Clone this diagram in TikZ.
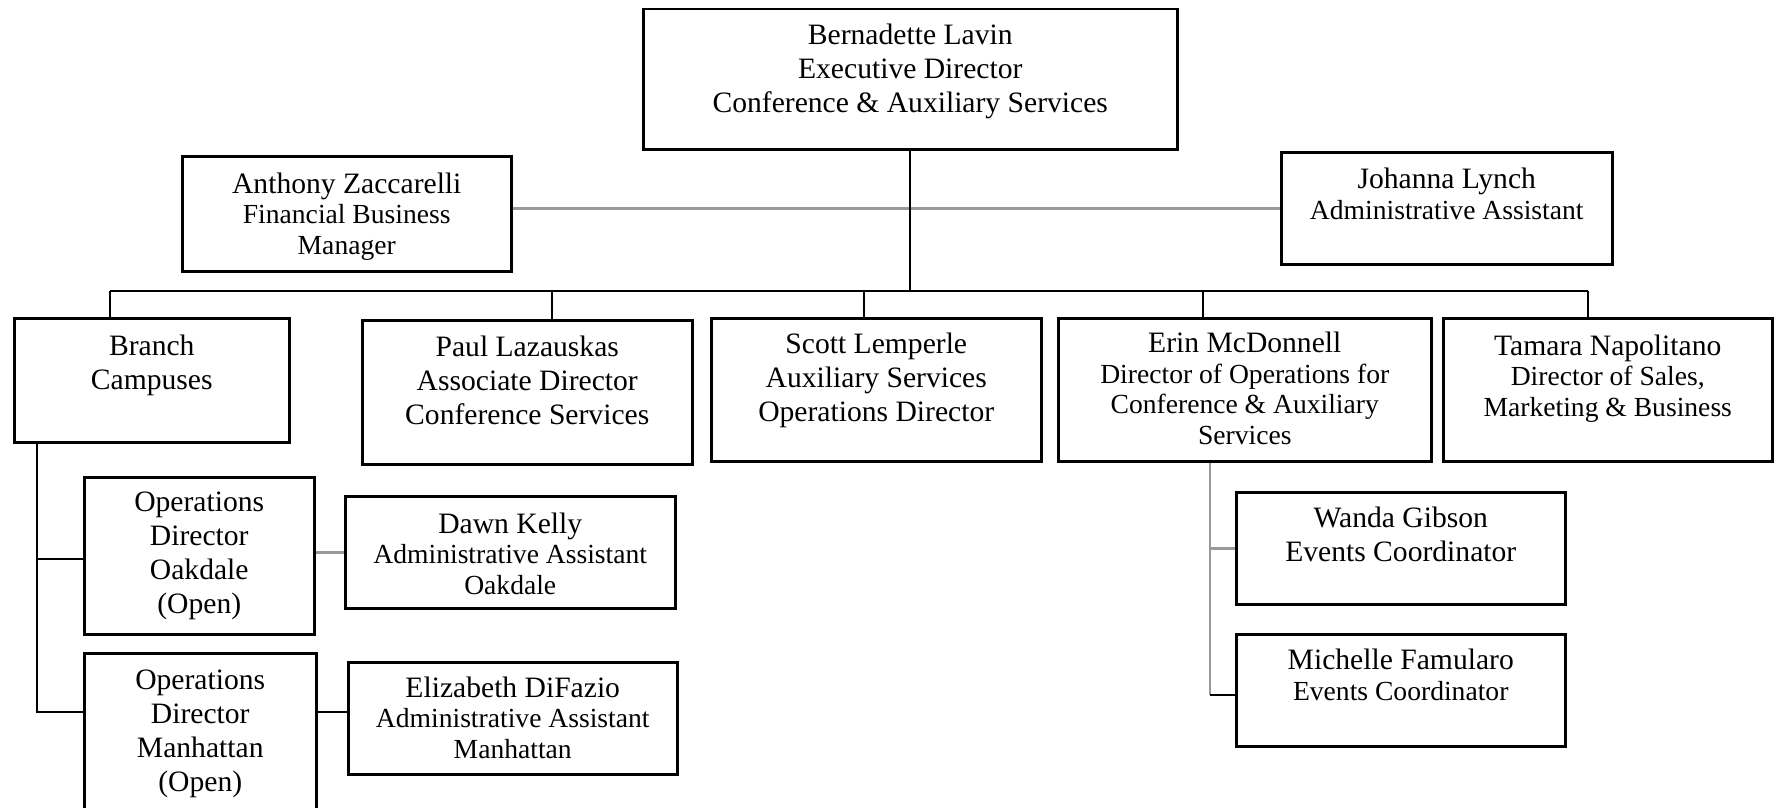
\documentclass[tikz,border=0pt]{standalone}
\usepackage{fontspec}
\setmainfont{Liberation Serif}
\usepackage{tikz}
\usetikzlibrary{positioning}

\newcommand{\namefont}{\fontsize{29.6pt}{34pt}\selectfont}
\newcommand{\rolefont}{\fontsize{27.6pt}{30.5pt}\selectfont}

\begin{document}
\begin{tikzpicture}[
    x=1pt, y=-1pt,
    box/.style={rectangle, draw, line width=2.5pt, align=center, inner sep=0pt, anchor=north west, font=\namefont},
    rolebox/.style={box, font=\rolefont},
    dims/.style n args={3}{minimum width=#1pt, text height=#2pt, text depth=#3pt},
    link/.style={line width=2pt},
    softlink/.style={line width=2.5pt, black!40}
]
\path[use as bounding box, clip] (0,0) rectangle (1777,808);

% Director and staff
\node[box, dims={534}{103}{37}] (lavin) at (642,8) {Bernadette Lavin\\Executive Director\\Conference \& Auxiliary Services};
\node[rolebox, dims={329}{98}{17}] (zacc) at (181,155) {{\namefont Anthony Zaccarelli}\\Financial Business\\Manager};
\node[rolebox, dims={331}{67}{45}] (lynch) at (1280,151) {{\namefont Johanna Lynch}\\Administrative Assistant};

% Second level
\node[box, dims={275}{71}{53}] (branch) at (13,317) {Branch\\Campuses};
\node[box, dims={330}{104}{40}] (lazaus) at (361,319) {Paul Lazauskas\\Associate Director\\Conference Services};
\node[box, dims={330}{103}{40}] (lemp) at (710,317) {Scott Lemperle\\Auxiliary Services\\Operations Director};
\node[rolebox, dims={373}{126}{17}] (mcdon) at (1057,317) {{\namefont Erin McDonnell}\\Director of Operations for\\Conference \& Auxiliary\\Services};
\node[rolebox, dims={329}{98}{45}] (napol) at (1442,317) {{\namefont Tamara Napolitano}\\Director of Sales,\\Marketing \& Business};

% Branch campuses
\node[box, dims={230}{136}{21}] (opsoak) at (83,476) {Operations\\Director\\Oakdale\\(Open)};
\node[rolebox, dims={330}{98}{14}] (kelly) at (344,495) {{\namefont Dawn Kelly}\\Administrative Assistant\\Oakdale};
\node[box, dims={232}{138}{60}] (opsman) at (83,652) {Operations\\Director\\Manhattan\\(Open)};
\node[rolebox, dims={329}{96}{16}] (difaz) at (347,661) {{\namefont Elizabeth DiFazio}\\Administrative Assistant\\Manhattan};

% Events
\node[box, dims={329}{69}{43}] (gibson) at (1235,491) {Wanda Gibson\\Events Coordinator};
\node[rolebox, dims={329}{66}{46}] (famul) at (1235,633) {{\namefont Michelle Famularo}\\Events Coordinator};

% Bus and taps
\coordinate (tapB) at (110,291);
\coordinate (tapP) at (552,291);
\coordinate (tapS) at (864,291);
\coordinate (tapE) at (1203,291);
\coordinate (tapT) at (1588,291);
\coordinate (jOak) at (37,559);
\coordinate (jMan) at (37,712);
\coordinate (jFam) at (1210,695);

\draw[softlink] (lynch.west -| zacc.east) -- (lynch.west);
\draw[link] (lavin.south) -- (lavin.south |- tapB);
\draw[link] (tapB) -- (tapT);
\foreach \t/\n in {tapB/branch, tapP/lazaus, tapS/lemp, tapE/mcdon, tapT/napol}
    \draw[link] (\t) -- (\t |- \n.north);

\draw[link] (jOak |- branch.south) -- (jMan) -- (jMan -| opsman.west);
\draw[link] (jOak) -- (jOak -| opsoak.west);
\draw[softlink] (kelly.west -| opsoak.east) -- (kelly.west);
\draw[link] (jMan -| opsman.east) -- (jMan -| difaz.west);

\draw[softlink] (jFam |- mcdon.south) -- (jFam);
\draw[softlink] (jFam |- gibson.west) -- (gibson.west);
\draw[link] (jFam) -- (jFam -| famul.west);
\end{tikzpicture}
\end{document}
